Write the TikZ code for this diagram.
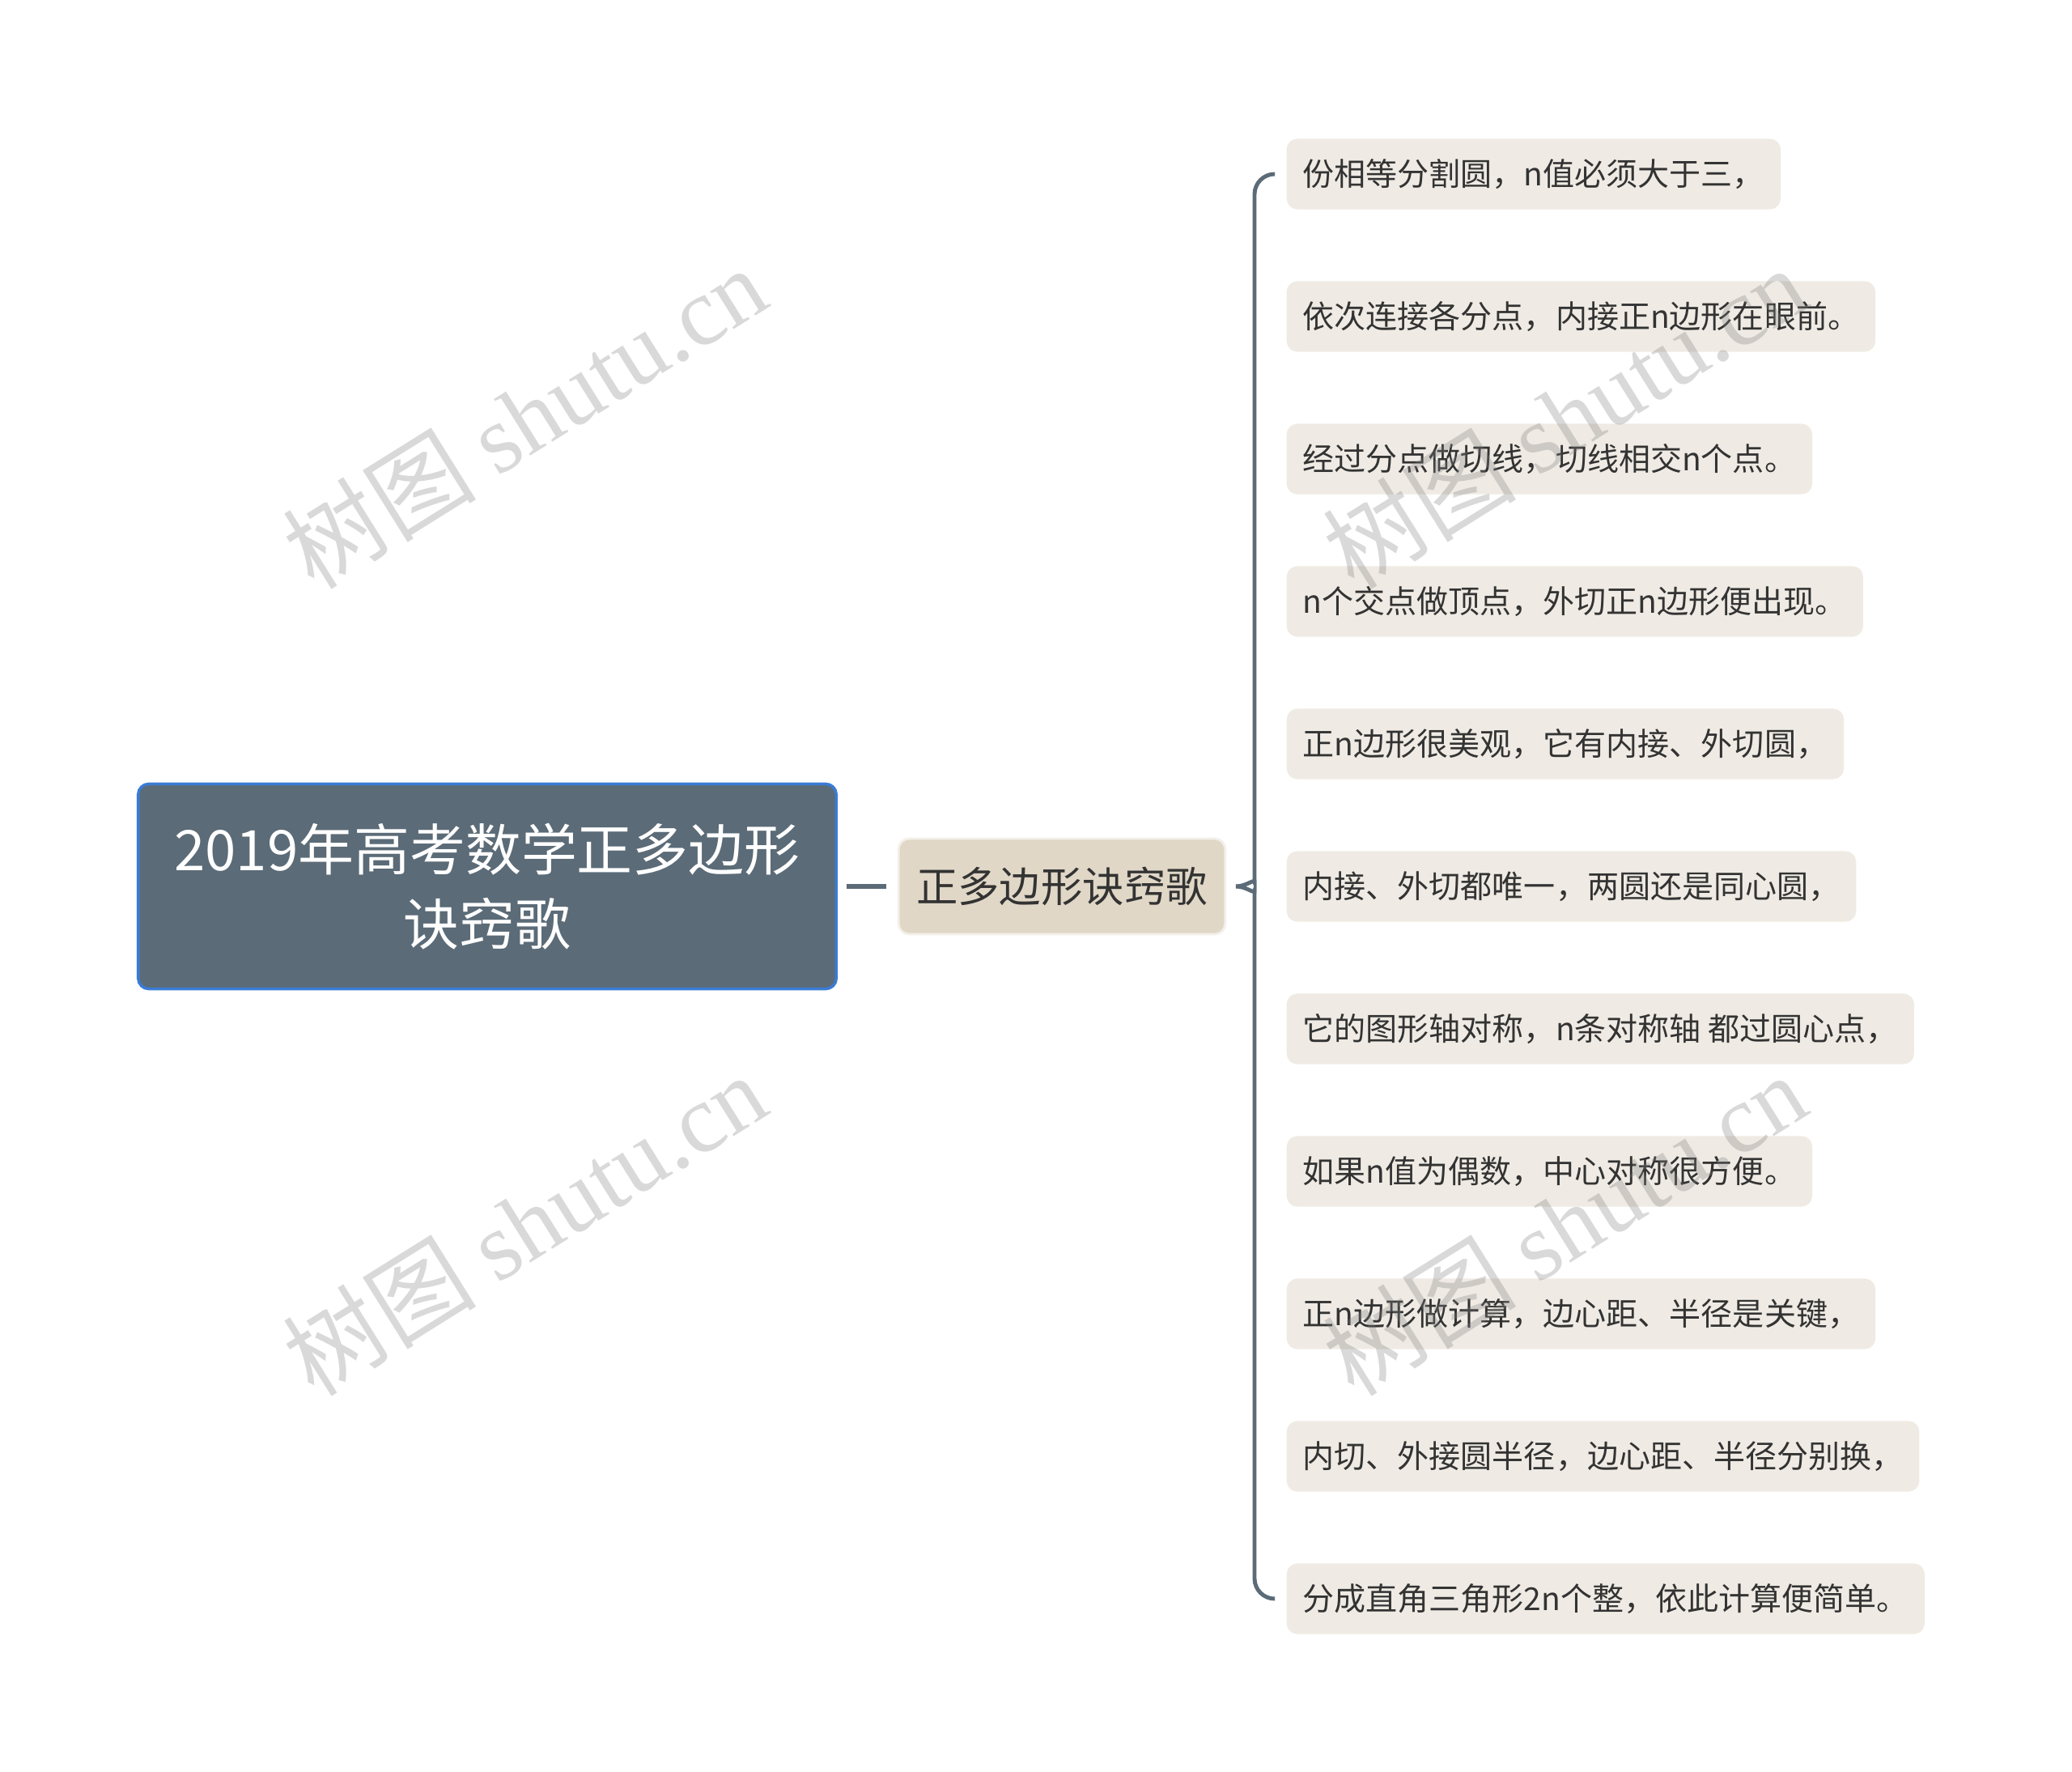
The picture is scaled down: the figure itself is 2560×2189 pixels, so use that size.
\documentclass[tikz,border=0pt]{standalone}
\usepackage{fontspec}
\setmainfont{Noto Sans CJK SC}
\newfontfamily\wmfont{Liberation Serif}
\usetikzlibrary{calc}

\definecolor{slate}{HTML}{5B6B77}
\definecolor{rootedge}{HTML}{3A7BD5}
\definecolor{midfill}{HTML}{E0D7C7}
\definecolor{midedge}{HTML}{F3EFE9}
\definecolor{leaffill}{HTML}{EFEBE4}
\definecolor{ink}{HTML}{333333}

\tikzset{
  rootbox/.style={draw=rootedge, line width=1pt, fill=slate, rounded corners=0.13cm,
    text=white, align=center, minimum width=8.62cm, minimum height=2.53cm,
    font=\fontsize{19.6}{26.2}\selectfont},
  midbox/.style={draw=midedge, line width=0.8pt, fill=midfill, rounded corners=0.13cm,
    text=ink, inner xsep=0.22cm, minimum height=1.18cm,
    font=\fontsize{14.6}{17}\selectfont},
  leafbox/.style={fill=leaffill, rounded corners=0.13cm, text=ink, anchor=west,
    inner xsep=0.2cm, minimum height=0.87cm, font=\fontsize{11.1}{13}\selectfont},
  link/.style={draw=slate, line width=1.8pt},
  brace/.style={draw=slate, line width=1.4pt, rounded corners=0.25cm},
  wm/.style={rotate=32, text=gray, opacity=0.3, font=\fontsize{34}{34}\selectfont}
}

\begin{document}
\begin{tikzpicture}[x=0.01cm, y=-0.01cm]
  \useasboundingbox (0,0) rectangle (2560,2189);

  \node[rootbox] (root) at (602,1095) {2019年高考数学正多边形\\诀窍歌};
  \node[midbox] (mid) at (1312,1095) {正多边形诀窍歌};
  \draw[link] ([xshift=0.11cm]root.east) -- ([xshift=-0.14cm]mid.west);

  \node[leafbox] (l1) at (1589,215) {份相等分割圆，n值必须大于三，};
  \node[leafbox] (l2) at (1589,391) {依次连接各分点，内接正n边形在眼前。};
  \node[leafbox] (l3) at (1589,567) {经过分点做切线，切线相交n个点。};
  \node[leafbox] (l4) at (1589,743) {n个交点做顶点，外切正n边形便出现。};
  \node[leafbox] (l5) at (1589,919) {正n边形很美观，它有内接、外切圆，};
  \node[leafbox] (l6) at (1589,1095) {内接、外切都唯一，两圆还是同心圆，};
  \node[leafbox] (l7) at (1589,1271) {它的图形轴对称，n条对称轴 都过圆心点，};
  \node[leafbox] (l8) at (1589,1447) {如果n值为偶数，中心对称很方便。};
  \node[leafbox] (l9) at (1589,1623) {正n边形做计算，边心距、半径是关键，};
  \node[leafbox] (l10) at (1589,1799) {内切、外接圆半径，边心距、半径分别换，};
  \node[leafbox] (l11) at (1589,1975) {分成直角三角形2n个整，依此计算便简单。};

  \coordinate (tip) at (1527,1095);
  \draw[brace] ([xshift=-0.16cm]l1.west) -| (1550,1065)
               .. controls (1550,1085) and (1540,1095) .. (tip);
  \draw[brace] (tip) .. controls (1540,1095) and (1550,1105) .. (1550,1125)
               |- ([xshift=-0.16cm]l11.west);

  \node[wm] (wm1) at (648,515) {树图 {\wmfont shutu.cn}};
  \node[wm] (wm2) at (1933,515) {树图 {\wmfont shutu.cn}};
  \node[wm] (wm3) at (648,1512) {树图 {\wmfont shutu.cn}};
  \node[wm] (wm4) at (1933,1512) {树图 {\wmfont shutu.cn}};
\end{tikzpicture}
\end{document}
